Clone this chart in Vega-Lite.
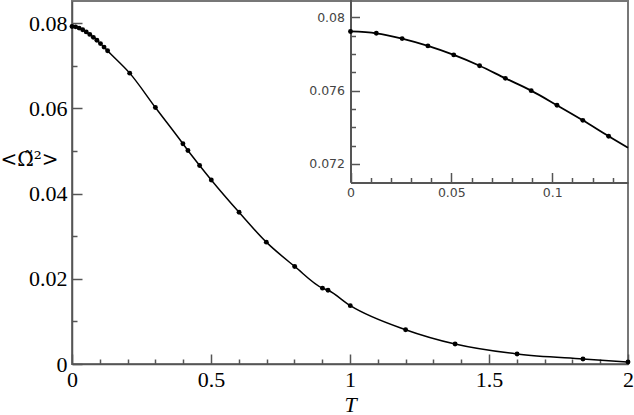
{
  "$schema": "https://vega.github.io/schema/vega-lite/v6.json",
  "width": 556,
  "height": 363,
  "autosize": "none",
  "padding": {"left": 72, "top": 1, "right": 6, "bottom": 51},
  "background": "white",
  "config": {
    "view": {"stroke": "#777", "strokeWidth": 2},
    "axis": {"grid": false, "labelFlush": false, "labelOverlap": false, "tickColor": "#555", "tickWidth": 1.5, "domainColor": "#555", "domainWidth": 1.5}
  },
  "datasets": {
    "points": [
      {"T": 0, "y": 0.07923}, {"T": 0.0128, "y": 0.07913}, {"T": 0.0256, "y": 0.07884},
      {"T": 0.0384, "y": 0.07844}, {"T": 0.0512, "y": 0.07795}, {"T": 0.064, "y": 0.07736},
      {"T": 0.0768, "y": 0.07667}, {"T": 0.0896, "y": 0.076}, {"T": 0.1024, "y": 0.0752},
      {"T": 0.1152, "y": 0.07438}, {"T": 0.128, "y": 0.07351}, {"T": 0.2076, "y": 0.06827},
      {"T": 0.3, "y": 0.0602}, {"T": 0.399, "y": 0.0517}, {"T": 0.417, "y": 0.0501},
      {"T": 0.459, "y": 0.0466}, {"T": 0.501, "y": 0.0432}, {"T": 0.601, "y": 0.0356},
      {"T": 0.699, "y": 0.0286}, {"T": 0.801, "y": 0.0229}, {"T": 0.901, "y": 0.0178},
      {"T": 0.921, "y": 0.0173}, {"T": 1.001, "y": 0.0137}, {"T": 1.2, "y": 0.00805},
      {"T": 1.378, "y": 0.00469}, {"T": 1.601, "y": 0.00235}, {"T": 1.838, "y": 0.00117},
      {"T": 2.0, "y": 0.00047}
    ],
    "curve": [
      {"T": 0, "y": 0.07923}, {"T": 0.0128, "y": 0.07913}, {"T": 0.0256, "y": 0.07884},
      {"T": 0.0384, "y": 0.07844}, {"T": 0.0512, "y": 0.07795}, {"T": 0.064, "y": 0.07736},
      {"T": 0.0768, "y": 0.07667}, {"T": 0.0896, "y": 0.076}, {"T": 0.1024, "y": 0.0752},
      {"T": 0.1152, "y": 0.07438}, {"T": 0.128, "y": 0.07351}, {"T": 0.1376, "y": 0.07288},
      {"T": 0.2076, "y": 0.06827},
      {"T": 0.3, "y": 0.0602}, {"T": 0.399, "y": 0.0517}, {"T": 0.417, "y": 0.0501},
      {"T": 0.459, "y": 0.0466}, {"T": 0.501, "y": 0.0432}, {"T": 0.601, "y": 0.0356},
      {"T": 0.699, "y": 0.0286}, {"T": 0.801, "y": 0.0229}, {"T": 0.901, "y": 0.0178},
      {"T": 0.921, "y": 0.0173}, {"T": 1.001, "y": 0.0137}, {"T": 1.2, "y": 0.00805},
      {"T": 1.378, "y": 0.00469}, {"T": 1.601, "y": 0.00235}, {"T": 1.838, "y": 0.00117},
      {"T": 2.0, "y": 0.00047}
    ]
  },
  "layer": [
    {
      "layer": [
        {
          "data": {"name": "curve"},
          "mark": {"type": "line", "interpolate": "monotone", "color": "black", "strokeWidth": 1.5},
          "encoding": {
            "x": {
              "field": "T", "type": "quantitative",
              "scale": {"domain": [0, 2], "nice": false, "zero": false},
              "axis": {
                "orient": "bottom",
                "values": [0, 0.5, 1, 1.5, 2],
                "format": "~g",
                "tickSize": -10, "labelPadding": 15,
                "labelFont": "Liberation Serif", "labelFontSize": 22, "labelColor": "black",
                "title": "T", "titleFont": "Liberation Serif", "titleFontSize": 22,
                "titleFontStyle": "italic", "titleFontWeight": "normal", "titleColor": "black",
                "titlePadding": 4
              }
            },
            "y": {
              "field": "y", "type": "quantitative",
              "scale": {"domain": [0, 0.0852], "nice": false, "zero": false},
              "axis": {
                "orient": "left",
                "values": [0, 0.02, 0.04, 0.06, 0.08],
                "format": "~g",
                "tickSize": -10, "labelPadding": 15,
                "labelFont": "Liberation Serif", "labelFontSize": 22, "labelColor": "black",
                "title": "<Ω̃²>", "titleFont": "DejaVu Serif", "titleFontSize": 20,
                "titleFontWeight": "normal", "titleColor": "black",
                "titleAngle": 0, "titleAlign": "center", "titleBaseline": "middle",
                "titleX": -43, "titleY": 158
              }
            }
          }
        },
        {
          "data": {"name": "points"},
          "mark": {"type": "circle", "color": "black", "size": 24, "opacity": 1},
          "encoding": {
            "x": {
              "field": "T", "type": "quantitative",
              "axis": {
                "orient": "bottom",
                "values": [0.1,0.2,0.3,0.4,0.6,0.7,0.8,0.9,1.1,1.2,1.3,1.4,1.6,1.7,1.8,1.9],
                "tickSize": -5, "labels": false, "domain": false, "title": null
              }
            },
            "y": {
              "field": "y", "type": "quantitative",
              "axis": {
                "orient": "left",
                "values": [0.01, 0.03, 0.05, 0.07],
                "tickSize": -5, "labels": false, "domain": false, "title": null
              }
            }
          }
        }
      ],
      "resolve": {"axis": {"x": "independent", "y": "independent"}}
    },
    {
      "layer": [
        {
          "data": {"name": "curve"},
          "transform": [{"filter": "datum.T <= 0.1377"}],
          "mark": {"type": "line", "interpolate": "monotone", "color": "black", "strokeWidth": 1.8},
          "encoding": {
            "x": {
              "field": "T", "type": "quantitative",
              "scale": {"domain": [0, 0.1376], "range": [278.5, 556], "nice": false, "zero": false},
              "axis": {
                "orient": "bottom", "offset": -181.5,
                "values": [0, 0.05, 0.1],
                "format": "~g",
                "tickSize": -10, "labelPadding": 14,
                "domainWidth": 2,
                "labelFont": "DejaVu Sans", "labelFontSize": 12.5, "labelColor": "#444",
                "title": null
              }
            },
            "y": {
              "field": "y", "type": "quantitative",
              "scale": {"domain": [0.071, 0.081], "range": [181.3, -2], "nice": false, "zero": false},
              "axis": {
                "orient": "left", "offset": -278.5,
                "values": [0.072, 0.076, 0.08],
                "format": "~g",
                "tickSize": -9, "labelPadding": 15,
                "domainWidth": 2,
                "labelFont": "DejaVu Sans", "labelFontSize": 12.5, "labelColor": "#444",
                "title": null
              }
            }
          }
        },
        {
          "data": {"name": "points"},
          "transform": [{"filter": "datum.T <= 0.13"}],
          "mark": {"type": "circle", "color": "black", "size": 24, "opacity": 1},
          "encoding": {
            "x": {
              "field": "T", "type": "quantitative",
              "axis": {
                "orient": "bottom", "offset": -181.5,
                "values": [0.01,0.02,0.03,0.04,0.06,0.07,0.08,0.09,0.11,0.12,0.13],
                "tickSize": -5, "labels": false, "domain": false, "title": null
              }
            },
            "y": {
              "field": "y", "type": "quantitative",
              "axis": {
                "orient": "left", "offset": -278.5,
                "values": [0.073, 0.074, 0.075, 0.077, 0.078, 0.079],
                "tickSize": -5, "labels": false, "domain": false, "title": null
              }
            }
          }
        }
      ],
      "resolve": {"axis": {"x": "independent", "y": "independent"}}
    }
  ],
  "resolve": {"scale": {"x": "independent", "y": "independent"}, "axis": {"x": "independent", "y": "independent"}}
}
